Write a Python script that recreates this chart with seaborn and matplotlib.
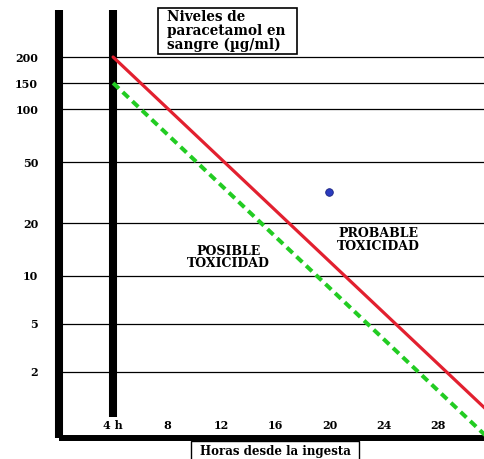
import numpy as np
import pandas as pd
import seaborn as sns
import matplotlib.pyplot as plt
from matplotlib.patches import Rectangle
from matplotlib.ticker import FixedLocator, NullLocator

horas_ticks = [4, 8, 12, 16, 20, 24, 28]
horas_labels = ['4 h', '8', '12', '16', '20', '24', '28']
niveles_ticks = [2, 5, 10, 20, 50, 100, 150, 200]

horas_linea = [4, 31.5]
nivel_probable = [200, 1.0]
nivel_posible = [150, 0.6]

hora_paciente = [20]
nivel_paciente = [32]

hora_inicio = 4

# calibración del eje vertical (el dibujo original no es logarítmico exacto)
escala_valores = [0.5, 1, 2, 5, 10, 20, 50, 100, 150, 200, 400]
escala_pos = [-6.6, 29.7, 66, 114, 162, 215, 276, 329, 355, 381, 433]
escala_log = np.log10(escala_valores)


def forward(v):
    v = np.clip(np.asarray(v, dtype=float), 1e-6, None)
    return np.interp(np.log10(v), escala_log, escala_pos)


def inverse(p):
    return 10 ** np.interp(np.asarray(p, dtype=float), escala_pos, escala_log)


sns.set_style('white')
plt.rcParams['font.family'] = ['DejaVu Serif']
plt.rcParams['font.weight'] = 'bold'
plt.rcParams['text.color'] = 'black'
plt.rcParams['xtick.color'] = 'black'
plt.rcParams['ytick.color'] = 'black'

W, H = 485, 459
fig = plt.figure(figsize=(W / 100, H / 100), dpi=100)
ax = fig.add_axes([59 / W, 21 / H, 426 / W, 428 / H])
ax.set_yscale('function', functions=(forward, inverse))

df_prob = pd.DataFrame({'hora': horas_linea, 'nivel': nivel_probable})
df_pos = pd.DataFrame({'hora': horas_linea, 'nivel': nivel_posible})
df_pac = pd.DataFrame({'hora': hora_paciente, 'nivel': nivel_paciente})

sns.lineplot(data=df_prob, x='hora', y='nivel', color='#e2202f', linewidth=2.3, ax=ax, zorder=3)
sns.lineplot(data=df_pos, x='hora', y='nivel', color='#22cc22', linewidth=2.9,
             linestyle=(0, (2.0, 1.3)), ax=ax, zorder=3)
sns.scatterplot(data=df_pac, x='hora', y='nivel', color='#2a3bbf', s=30, edgecolor='#1a2280',
                linewidth=0.6, ax=ax, zorder=4)

ax.axvline(hora_inicio, ymin=0.05, ymax=1, color='black', linewidth=5.8, zorder=2,
           solid_capstyle='butt')

ax.set_xlim(0, 31.5)
ax.set_ylim(inverse(0), inverse(428))

ax.yaxis.set_major_locator(FixedLocator(niveles_ticks))
ax.yaxis.set_minor_locator(NullLocator())
ax.set_yticklabels([str(v) for v in niveles_ticks])
ax.xaxis.set_major_locator(FixedLocator(horas_ticks))
ax.set_xticklabels(horas_labels)

ax.yaxis.grid(True, color='black', linewidth=0.9)
ax.xaxis.grid(False)
ax.tick_params(axis='y', length=0, pad=15, labelsize=8)
ax.tick_params(axis='x', direction='in', length=3, width=1, pad=-13, labelsize=8)

for lado in ['top', 'right']:
    ax.spines[lado].set_visible(False)
ax.spines['left'].set_linewidth(5.8)
ax.spines['bottom'].set_linewidth(4.3)
for lado in ['left', 'bottom']:
    ax.spines[lado].set_color('black')
    ax.spines[lado].set_capstyle('butt')

ax.text(12.5, 12.7, 'POSIBLE\nTOXICIDAD', ha='center', va='center', fontsize=9,
        linespacing=0.95, multialignment='center')
ax.text(23.6, 16, 'PROBABLE\nTOXICIDAD', ha='center', va='center', fontsize=9,
        linespacing=0.95, multialignment='center')

# etiqueta del eje x en su recuadro (cortado por el borde inferior)
ax.set_xlabel('')
ax.set_ylabel('')
fig.text(275 / W, 1 - 452 / H, 'Horas desde la ingesta', ha='center', va='center', fontsize=8.5)
fig.patches.append(Rectangle((191 / W, -10 / H), 168 / W, (10 + 459 - 441) / H,
                             transform=fig.transFigure, fc='none', ec='black', lw=1))

# recuadro del título
fig.patches.append(Rectangle((158 / W, 1 - 54 / H), 139 / W, 46 / H,
                             transform=fig.transFigure, fc='white', ec='black', lw=1.2,
                             zorder=2))
fig.text(167 / W, 1 - 10 / H, 'Niveles de\nparacetamol en\nsangre (µg/ml)',
         ha='left', va='top', fontsize=9.8, linespacing=1.0, zorder=3)

fig.savefig('out.png', dpi=100)
